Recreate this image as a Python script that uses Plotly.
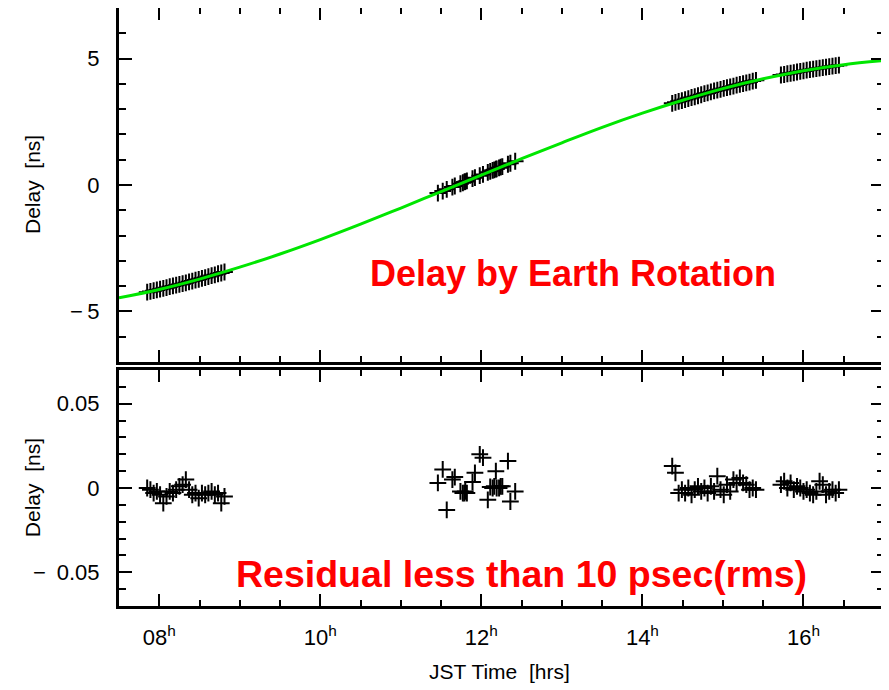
import plotly.graph_objects as go

# ---------------- data ----------------
curve_t = [7.5, 8.0, 8.5, 9.0, 9.5, 10.0, 10.5, 11.0, 11.5, 12.0,
           12.5, 13.0, 13.5, 14.0, 14.5, 15.0, 15.5, 16.0, 16.5, 17.0]
curve_delay = [-4.46, -4.13, -3.72, -3.25, -2.73, -2.16, -1.55, -0.91, -0.26, 0.39,
               1.04, 1.67, 2.28, 2.84, 3.35, 3.81, 4.20, 4.52, 4.76, 4.92]

t1 = [7.85, 7.89, 7.93, 7.97, 8.01, 8.05, 8.09, 8.13, 8.17, 8.21, 8.25, 8.29, 8.33,
      8.37, 8.41, 8.45, 8.49, 8.53, 8.57, 8.61, 8.65, 8.69, 8.73, 8.77, 8.81]
d1 = [-4.24, -4.21, -4.18, -4.15, -4.12, -4.09, -4.06, -4.02, -3.99, -3.96, -3.93, -3.90, -3.87,
      -3.83, -3.80, -3.76, -3.73, -3.69, -3.66, -3.62, -3.58, -3.55, -3.51, -3.48, -3.44]
r1 = [0.000, -0.001, -0.003, -0.002, -0.004, -0.009, -0.005, -0.002, -0.003, -0.001, 0.001, 0.002, 0.005,
      -0.001, -0.004, -0.003, -0.006, -0.003, -0.004, -0.003, -0.002, -0.004, -0.003, -0.009, -0.005]

t2 = [11.46, 11.52, 11.57, 11.64, 11.67, 11.74, 11.77, 11.79, 11.80, 11.82, 11.89, 11.92, 11.98,
      12.02, 12.08, 12.11, 12.14, 12.16, 12.18, 12.19, 12.22, 12.24, 12.26, 12.33, 12.36, 12.42]
d2 = [-0.32, -0.24, -0.17, -0.08, -0.04, 0.05, 0.09, 0.12, 0.13, 0.16, 0.25, 0.29, 0.37,
      0.42, 0.50, 0.54, 0.58, 0.60, 0.63, 0.64, 0.68, 0.71, 0.73, 0.82, 0.86, 0.94]
r2 = [0.003, 0.011, -0.013, 0.005, 0.0065, -0.002, -0.003, -0.003, -0.002, -0.003, 0.0035, 0.009, 0.020,
      0.018, -0.007, 0.0006, 0.000, 0.001, 0.010, 0.000, 0.000, 0.001, 0.001, 0.016, -0.008, -0.002]

t3 = [14.37, 14.41, 14.45, 14.49, 14.53, 14.57, 14.61, 14.65, 14.69, 14.73, 14.77, 14.81, 14.85, 14.89,
      14.93, 14.97, 15.01, 15.05, 15.09, 15.13, 15.17, 15.21, 15.25, 15.29, 15.33, 15.37, 15.41]
d3 = [3.23, 3.27, 3.31, 3.34, 3.38, 3.42, 3.46, 3.49, 3.53, 3.57, 3.61, 3.64, 3.68, 3.72,
      3.75, 3.78, 3.82, 3.85, 3.88, 3.91, 3.95, 3.98, 4.01, 4.04, 4.07, 4.11, 4.14]
r3 = [0.013, 0.009, -0.003, -0.001, -0.003, 0.000, -0.004, -0.001, 0.001, -0.002, 0.000, -0.003, 0.001, -0.002,
      0.007, -0.001, -0.004, 0.002, -0.002, 0.005, 0.003, 0.006, 0.003, 0.002, -0.001, 0.000, -0.001]

t4 = [15.72, 15.76, 15.80, 15.84, 15.88, 15.92, 15.96, 16.00, 16.04, 16.08,
      16.12, 16.16, 16.20, 16.24, 16.28, 16.32, 16.36, 16.40, 16.44]
d4 = [4.35, 4.37, 4.40, 4.42, 4.44, 4.47, 4.49, 4.51, 4.54, 4.56,
      4.58, 4.60, 4.62, 4.64, 4.66, 4.68, 4.70, 4.72, 4.74]
r4 = [0.002, 0.004, 0.000, 0.003, -0.001, 0.001, 0.000, -0.002, -0.001, -0.003,
      -0.004, -0.002, 0.004, 0.002, -0.004, -0.002, -0.001, -0.003, -0.001]

x_tickvals = [8, 10, 12, 14, 16]
x_ticktext = ["08<sup>h</sup>", "10<sup>h</sup>", "12<sup>h</sup>", "14<sup>h</sup>", "16<sup>h</sup>"]
top_tickvals = [-5, 0, 5]
top_ticktext = ["\u2212\u20095", "0", "5"]
bot_tickvals = [-0.05, 0, 0.05]
bot_ticktext = ["\u2212\u20020.05", "0", "0.05"]

# ---------------- figure ----------------
t_all = t1 + t2 + t3 + t4
d_all = d1 + d2 + d3 + d4
r_all = r1 + r2 + r3 + r4

FONT = "Liberation Sans, Arial, sans-serif"
marker = dict(symbol="cross-thin", size=12, line=dict(width=2, color="black"), color="black")

fig = go.Figure()
fig.add_trace(go.Scatter(x=t_all, y=d_all, mode="markers", marker=marker,
                         xaxis="x2", yaxis="y2", showlegend=False))
fig.add_trace(go.Scatter(x=curve_t, y=curve_delay, mode="lines", line=dict(color="#00e600", width=3, shape="spline"),
                         xaxis="x2", yaxis="y2", showlegend=False))
fig.add_trace(go.Scatter(x=t_all, y=r_all, mode="markers", marker=marker,
                         xaxis="x", yaxis="y", showlegend=False))

axis_common = dict(showline=True, linewidth=3, linecolor="black", mirror="allticks",
                   ticks="inside", tickwidth=2, tickcolor="black", showgrid=False, zeroline=False,
                   automargin=False,
                   tickfont=dict(family=FONT, size=22, color="black"))
title_font = dict(family=FONT, size=21, color="black")

fig.update_layout(
    width=889, height=690,
    margin=dict(l=111, r=13, t=0, b=92),
    paper_bgcolor="white", plot_bgcolor="white",
    xaxis=dict(**axis_common, range=[7.5, 17], domain=[0, 1], anchor="y",
               tickvals=x_tickvals, ticktext=x_ticktext, ticklen=12, ticklabelstandoff=10,
               minor=dict(ticks="inside", dtick=0.5, tick0=7.5, ticklen=6, tickwidth=2, tickcolor="black")),
    yaxis=dict(**axis_common, range=[-0.07, 0.07], domain=[0, 0.3946], anchor="x",
               tickvals=bot_tickvals, ticktext=bot_ticktext, ticklen=13, ticklabelstandoff=12,
               minor=dict(ticks="inside", dtick=0.01, tick0=0, ticklen=7, tickwidth=2, tickcolor="black")),
    xaxis2=dict(**axis_common, range=[7.5, 17], domain=[0, 1], anchor="y2", matches="x",
                tickvals=x_tickvals, showticklabels=False, ticklen=12,
                minor=dict(ticks="inside", dtick=0.5, tick0=7.5, ticklen=6, tickwidth=2, tickcolor="black")),
    yaxis2=dict(**axis_common, range=[-7, 7], domain=[0.408, 1], anchor="x2",
                tickvals=top_tickvals, ticktext=top_ticktext, ticklen=13, ticklabelstandoff=12,
                minor=dict(ticks="inside", dtick=1, tick0=0, ticklen=7, tickwidth=2, tickcolor="black")),
    annotations=[
        dict(text="<b>Delay by Earth Rotation</b>", x=13.14, y=-3.48, xref="x2", yref="y2",
             showarrow=False, font=dict(family=FONT, size=36, color="#ff0000")),
        dict(text="<b>Residual less than 10 psec(rms)</b>", x=12.5, y=-0.051, xref="x", yref="y",
             showarrow=False, font=dict(family=FONT, size=37.5, color="#ff0000")),
        dict(text="Delay  [ns]", x=-0.1137, y=0.704, xref="paper", yref="paper", textangle=-90,
             xanchor="center", yanchor="middle", showarrow=False, font=title_font),
        dict(text="Delay  [ns]", x=-0.1137, y=0.197, xref="paper", yref="paper", textangle=-90,
             xanchor="center", yanchor="middle", showarrow=False, font=title_font),
        dict(text="JST Time  [hrs]", x=0.498, y=-0.110, xref="paper", yref="paper",
             xanchor="center", yanchor="middle", showarrow=False, font=title_font),
    ],
)

fig.write_html("out.html")
